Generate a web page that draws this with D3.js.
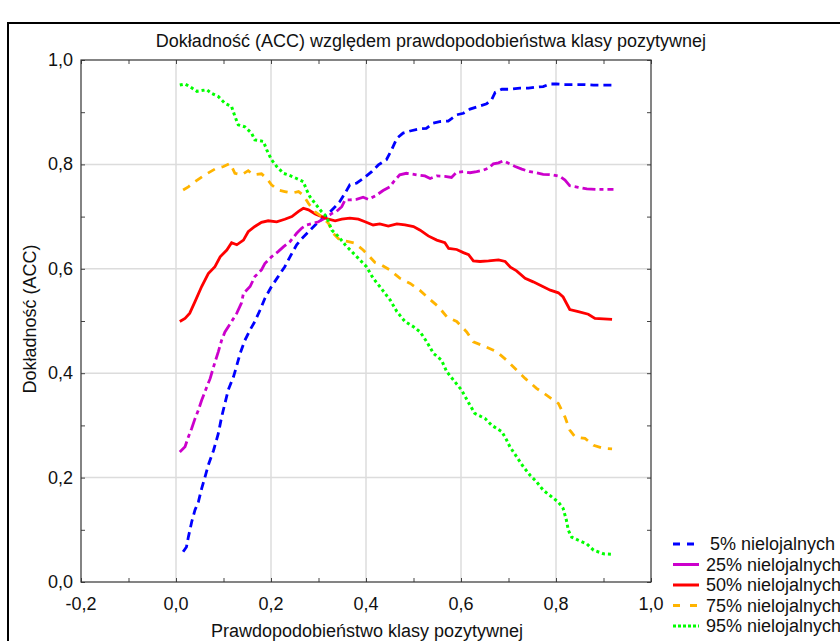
<!DOCTYPE html>
<html>
<head>
<meta charset="utf-8">
<script src="https://cdnjs.cloudflare.com/ajax/libs/d3/7.8.5/d3.min.js"></script>
<style>
body { margin: 0; background: #fff; }
svg text { font-family: "Liberation Sans", Arial, sans-serif; fill: #111; }
</style>
</head>
<body>
<div id="chart"></div>
<script>
var W = 840, H = 641;

var seriesNames = ["5% nielojalnych", "25% nielojalnych", "50% nielojalnych", "75% nielojalnych", "95% nielojalnych"];
var colors = ["#0000ff", "#cc00cc", "#ff0000", "#ffb400", "#00ff00"];

// [prob, acc] pairs
var s5 = [[0.015,0.058],[0.022,0.067],[0.026,0.086],[0.033,0.115],[0.04,0.138],[0.047,0.153],[0.054,0.179],[0.061,0.201],[0.068,0.224],[0.079,0.252],[0.089,0.284],[0.096,0.316],[0.103,0.342],[0.11,0.368],[0.121,0.393],[0.128,0.415],[0.135,0.438],[0.145,0.463],[0.156,0.483],[0.166,0.499],[0.177,0.521],[0.187,0.543],[0.201,0.566],[0.215,0.585],[0.229,0.604],[0.24,0.623],[0.254,0.646],[0.265,0.658],[0.279,0.671],[0.293,0.684],[0.307,0.695],[0.321,0.706],[0.335,0.719],[0.345,0.729],[0.356,0.745],[0.366,0.761],[0.38,0.764],[0.394,0.773],[0.412,0.786],[0.426,0.799],[0.443,0.809],[0.454,0.828],[0.465,0.85],[0.478,0.86],[0.493,0.864],[0.513,0.868],[0.527,0.869],[0.541,0.879],[0.555,0.882],[0.573,0.883],[0.591,0.895],[0.605,0.898],[0.619,0.906],[0.636,0.911],[0.654,0.916],[0.665,0.925],[0.672,0.938],[0.686,0.944],[0.703,0.944],[0.724,0.946],[0.742,0.946],[0.759,0.948],[0.773,0.949],[0.787,0.954],[0.801,0.954],[0.819,0.953],[0.837,0.953],[0.858,0.953],[0.879,0.952],[0.9,0.952],[0.921,0.952]];

var s25 = [[0.008,0.249],[0.019,0.259],[0.026,0.278],[0.033,0.294],[0.04,0.313],[0.047,0.329],[0.054,0.348],[0.065,0.374],[0.072,0.39],[0.079,0.412],[0.089,0.441],[0.096,0.463],[0.103,0.479],[0.117,0.499],[0.128,0.515],[0.138,0.535],[0.142,0.553],[0.156,0.566],[0.166,0.585],[0.18,0.598],[0.187,0.61],[0.201,0.623],[0.215,0.633],[0.226,0.642],[0.24,0.652],[0.254,0.668],[0.265,0.678],[0.275,0.684],[0.289,0.687],[0.3,0.69],[0.314,0.697],[0.328,0.706],[0.338,0.71],[0.349,0.719],[0.356,0.732],[0.366,0.732],[0.38,0.733],[0.394,0.737],[0.405,0.733],[0.422,0.741],[0.436,0.75],[0.45,0.757],[0.461,0.77],[0.471,0.78],[0.485,0.783],[0.507,0.78],[0.524,0.778],[0.535,0.773],[0.549,0.778],[0.566,0.777],[0.58,0.775],[0.591,0.785],[0.605,0.786],[0.619,0.784],[0.633,0.786],[0.647,0.789],[0.658,0.793],[0.668,0.801],[0.679,0.803],[0.689,0.807],[0.7,0.802],[0.714,0.796],[0.728,0.791],[0.745,0.786],[0.759,0.784],[0.773,0.781],[0.791,0.78],[0.808,0.777],[0.819,0.77],[0.829,0.759],[0.847,0.756],[0.865,0.753],[0.886,0.752],[0.903,0.752],[0.921,0.752]];

var s50 = [[0.008,0.499],[0.019,0.505],[0.029,0.515],[0.04,0.537],[0.054,0.566],[0.068,0.591],[0.082,0.604],[0.093,0.623],[0.107,0.636],[0.117,0.65],[0.128,0.646],[0.142,0.655],[0.152,0.671],[0.166,0.681],[0.18,0.689],[0.194,0.692],[0.212,0.69],[0.229,0.695],[0.244,0.7],[0.258,0.71],[0.268,0.716],[0.279,0.713],[0.293,0.705],[0.307,0.7],[0.321,0.695],[0.335,0.692],[0.349,0.695],[0.366,0.697],[0.384,0.695],[0.398,0.69],[0.415,0.684],[0.429,0.686],[0.447,0.682],[0.465,0.686],[0.482,0.684],[0.5,0.681],[0.514,0.674],[0.531,0.663],[0.549,0.655],[0.566,0.65],[0.574,0.639],[0.591,0.637],[0.605,0.631],[0.616,0.627],[0.626,0.615],[0.64,0.614],[0.658,0.615],[0.679,0.617],[0.693,0.614],[0.704,0.603],[0.717,0.596],[0.735,0.582],[0.752,0.575],[0.77,0.567],[0.788,0.559],[0.805,0.554],[0.815,0.546],[0.822,0.534],[0.829,0.522],[0.847,0.518],[0.868,0.513],[0.882,0.505],[0.9,0.504],[0.918,0.503]];

var s75 = [[0.015,0.751],[0.026,0.757],[0.04,0.767],[0.061,0.78],[0.082,0.791],[0.1,0.796],[0.114,0.802],[0.124,0.783],[0.138,0.78],[0.152,0.788],[0.163,0.78],[0.18,0.782],[0.191,0.773],[0.201,0.761],[0.215,0.751],[0.229,0.748],[0.244,0.745],[0.258,0.748],[0.268,0.741],[0.279,0.725],[0.293,0.709],[0.307,0.7],[0.321,0.687],[0.331,0.668],[0.345,0.655],[0.363,0.652],[0.377,0.649],[0.394,0.636],[0.408,0.623],[0.419,0.612],[0.433,0.607],[0.45,0.598],[0.471,0.582],[0.493,0.572],[0.513,0.559],[0.535,0.541],[0.553,0.527],[0.57,0.508],[0.591,0.499],[0.612,0.479],[0.626,0.46],[0.651,0.451],[0.675,0.441],[0.696,0.425],[0.717,0.406],[0.735,0.39],[0.759,0.371],[0.78,0.358],[0.805,0.342],[0.819,0.316],[0.829,0.291],[0.84,0.278],[0.861,0.275],[0.879,0.262],[0.9,0.256],[0.918,0.255]];

var s95 = [[0.008,0.952],[0.019,0.954],[0.029,0.949],[0.044,0.94],[0.065,0.943],[0.075,0.936],[0.089,0.93],[0.103,0.917],[0.117,0.911],[0.124,0.892],[0.131,0.876],[0.145,0.872],[0.159,0.86],[0.166,0.847],[0.184,0.844],[0.191,0.828],[0.201,0.809],[0.212,0.796],[0.226,0.783],[0.236,0.78],[0.254,0.773],[0.268,0.767],[0.275,0.751],[0.282,0.738],[0.293,0.725],[0.307,0.709],[0.317,0.7],[0.328,0.674],[0.342,0.662],[0.356,0.646],[0.37,0.633],[0.384,0.62],[0.401,0.604],[0.415,0.582],[0.429,0.566],[0.44,0.553],[0.451,0.54],[0.465,0.518],[0.482,0.499],[0.5,0.489],[0.514,0.479],[0.528,0.46],[0.542,0.438],[0.559,0.425],[0.57,0.403],[0.584,0.387],[0.601,0.368],[0.615,0.345],[0.629,0.323],[0.651,0.313],[0.665,0.3],[0.686,0.288],[0.696,0.272],[0.703,0.259],[0.717,0.24],[0.731,0.221],[0.745,0.205],[0.759,0.192],[0.773,0.176],[0.791,0.163],[0.805,0.153],[0.815,0.141],[0.822,0.118],[0.826,0.099],[0.833,0.086],[0.847,0.08],[0.865,0.073],[0.879,0.061],[0.9,0.054],[0.918,0.053]];

var allSeries = [s5, s25, s50, s75, s95];
var dashes = ["8,5", "13,4,4,4", null, "8,7", "3,3"];

var xTicks = [-0.2, 0.0, 0.2, 0.4, 0.6, 0.8, 1.0];
var yTicks = [0.0, 0.2, 0.4, 0.6, 0.8, 1.0];
var xMinor = [-0.1, 0.1, 0.3, 0.5, 0.7, 0.9];
var yMinor = [0.1, 0.3, 0.5, 0.7, 0.9];

var pLeft = 81, pRight = 651, pTop = 60, pBottom = 582;
var fs = "18px";

var svg = d3.select("#chart")
	.append("svg")
	.attr("width", W)
	.attr("height", H);

// outer frame (cut off at right / bottom)
svg.append("rect")
	.attr("x", 8).attr("y", 23)
	.attr("width", 900).attr("height", 700)
	.attr("fill", "none")
	.attr("stroke", "#000")
	.attr("stroke-width", 2);

var x = d3.scaleLinear().domain([-0.2, 1.0]).range([pLeft, pRight]);
var y = d3.scaleLinear().domain([0, 1]).range([pBottom, pTop]);

var fmt = function(d) { return d3.format(".1f")(d).replace("\u2212", "-").replace(".", ","); };

// grid
svg.append("g").selectAll("line")
	.data(xTicks.slice(1, -1))
	.enter().append("line")
	.attr("x1", function(d) { return x(d); }).attr("x2", function(d) { return x(d); })
	.attr("y1", pTop).attr("y2", pBottom)
	.attr("stroke", "#dcdcdc").attr("stroke-width", 1.5);

svg.append("g").selectAll("line")
	.data(yTicks.slice(1, -1))
	.enter().append("line")
	.attr("y1", function(d) { return y(d); }).attr("y2", function(d) { return y(d); })
	.attr("x1", pLeft).attr("x2", pRight)
	.attr("stroke", "#dcdcdc").attr("stroke-width", 1.5);

// inward ticks on all four sides
function noDomain(g) { g.select(".domain").remove(); }
svg.append("g")
	.attr("transform", "translate(0," + pBottom + ")")
	.call(d3.axisTop(x).tickValues(xTicks.concat(xMinor)).tickSize(4).tickFormat(""))
	.call(noDomain);
svg.append("g")
	.attr("transform", "translate(0," + pTop + ")")
	.call(d3.axisBottom(x).tickValues(xTicks.concat(xMinor)).tickSize(4).tickFormat(""))
	.call(noDomain);
svg.append("g")
	.attr("transform", "translate(" + pLeft + ",0)")
	.call(d3.axisRight(y).tickValues(yTicks.concat(yMinor)).tickSize(4).tickFormat(""))
	.call(noDomain);
svg.append("g")
	.attr("transform", "translate(" + pRight + ",0)")
	.call(d3.axisLeft(y).tickValues(yTicks.concat(yMinor)).tickSize(4).tickFormat(""))
	.call(noDomain);

svg.selectAll(".tick line").attr("stroke", "#444");

// tick labels
svg.append("g").selectAll("text")
	.data(xTicks)
	.enter().append("text")
	.attr("x", function(d) { return x(d); })
	.attr("y", 610)
	.attr("text-anchor", "middle")
	.style("font-size", fs)
	.text(fmt);

svg.append("g").selectAll("text")
	.data(yTicks)
	.enter().append("text")
	.attr("x", 73)
	.attr("y", function(d) { return y(d) + 6; })
	.attr("text-anchor", "end")
	.style("font-size", fs)
	.text(fmt);

// plot frame
svg.append("rect")
	.attr("x", pLeft).attr("y", pTop)
	.attr("width", pRight - pLeft).attr("height", pBottom - pTop)
	.attr("fill", "none")
	.attr("stroke", "#333")
	.attr("stroke-width", 1.2);

// lines
var line = d3.line()
	.x(function(d) { return x(d[0]); })
	.y(function(d) { return y(d[1]); });

svg.append("g").selectAll("path")
	.data(allSeries)
	.enter().append("path")
	.attr("d", line)
	.attr("fill", "none")
	.attr("stroke", function(d, i) { return colors[i]; })
	.attr("stroke-width", function(d, i) { return i == 4 ? 3 : 2.8; })
	.attr("stroke-dasharray", function(d, i) { return dashes[i]; });

// titles
svg.append("text")
	.attr("x", 431).attr("y", 47)
	.attr("text-anchor", "middle")
	.style("font-size", fs)
	.text("Dokładność (ACC) względem prawdopodobieństwa klasy pozytywnej");

svg.append("text")
	.attr("x", (pLeft + pRight) / 2 + 1).attr("y", 637)
	.attr("text-anchor", "middle")
	.style("font-size", fs)
	.text("Prawdopodobieństwo klasy pozytywnej");

svg.append("text")
	.attr("transform", "translate(36," + ((pTop + pBottom) / 2 - 2) + ") rotate(-90)")
	.attr("text-anchor", "middle")
	.style("font-size", fs)
	.text("Dokładność (ACC)");

// legend
var legendDash = ["7,7", null, null, "7,10", "3,2"];
var lg = svg.append("g").selectAll("g")
	.data(seriesNames)
	.enter().append("g")
	.attr("transform", function(d, i) { return "translate(673," + (544 + i * 20.5) + ")"; });

lg.append("line")
	.attr("x1", 0).attr("x2", 26)
	.attr("stroke", function(d, i) { return colors[i]; })
	.attr("stroke-width", 3)
	.attr("stroke-dasharray", function(d, i) { return legendDash[i]; });

lg.append("text")
	.attr("x", function(d, i) { return i == 0 ? 37 : 33; })
	.attr("y", 6)
	.style("font-size", fs)
	.text(function(d) { return d; });
</script>
</body>
</html>
